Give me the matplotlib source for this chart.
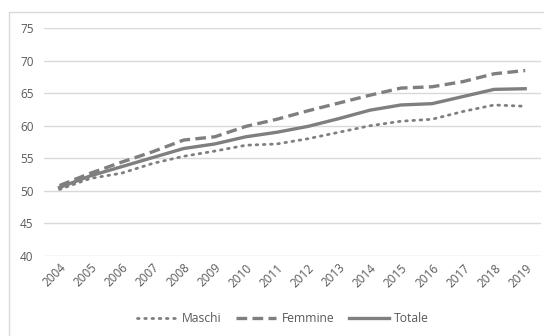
import matplotlib
matplotlib.use("Agg")
import matplotlib.pyplot as plt
from matplotlib.patches import Rectangle

years = [str(y) for y in range(2004, 2020)]
maschi = [50.2, 51.9, 52.7, 54.2, 55.3, 56.1, 57.0, 57.2, 58.0, 59.0, 60.0, 60.7, 61.0, 62.2, 63.2, 63.0]
femmine = [50.8, 52.7, 54.4, 56.0, 57.8, 58.3, 59.9, 61.0, 62.3, 63.5, 64.7, 65.8, 66.0, 66.8, 68.0, 68.5]
totale = [50.5, 52.3, 53.7, 55.1, 56.5, 57.2, 58.3, 59.0, 59.9, 61.1, 62.4, 63.2, 63.4, 64.5, 65.6, 65.7]
y_ticks = [40, 45, 50, 55, 60, 65, 70, 75]

plt.rcParams['font.family'] = ['Open Sans', 'DejaVu Sans']

W, H = 544, 336
fig = plt.figure(figsize=(W / 100, H / 100), dpi=100)
fig.patch.set_facecolor('white')

# chart frame
fig.add_artist(Rectangle((9 / W, -0.1), 1.2, (H - 12) / H + 0.1,
                         transform=fig.transFigure, fill=False,
                         edgecolor='#d9d9d9', linewidth=1.0))

ax = fig.add_axes([44 / W, 1 - 255.7 / H, (540.7 - 44) / W, (255.7 - 28.3) / H])
x = list(range(len(years)))
line_color = '#7f7f7f'

ax.plot(x, maschi, color=line_color, linewidth=2.0, linestyle=(0, (0.6, 2.0)),
        dash_capstyle='round', label='Maschi')
ax.plot(x, femmine, color=line_color, linewidth=2.4, linestyle=(0, (3.2, 1.6)),
        label='Femmine')
ax.plot(x, totale, color=line_color, linewidth=2.4, linestyle='-', label='Totale')

ax.set_xlim(-0.5, len(years) - 0.5)
ax.set_ylim(40, 75)
ax.set_yticks(y_ticks)
ax.set_xticks(x)
ax.set_xticklabels(years, rotation=45, ha='right', rotation_mode='anchor')
ax.grid(axis='y', color='#d9d9d9', linewidth=1.0)
ax.set_axisbelow(True)
for s in ax.spines.values():
    s.set_visible(False)
ax.tick_params(axis='both', length=0, colors='#595959', labelsize=8.5)
ax.tick_params(axis='y', pad=7.5)
ax.tick_params(axis='x', pad=4)

leg = fig.legend(loc='center', bbox_to_anchor=(0.52, 1 - 319 / H), ncol=3,
                 frameon=False, fontsize=8.7, handlelength=3.3, columnspacing=1.2,
                 handletextpad=0.45, labelcolor='#595959')

fig.savefig('out.png', dpi=100, facecolor='white')
